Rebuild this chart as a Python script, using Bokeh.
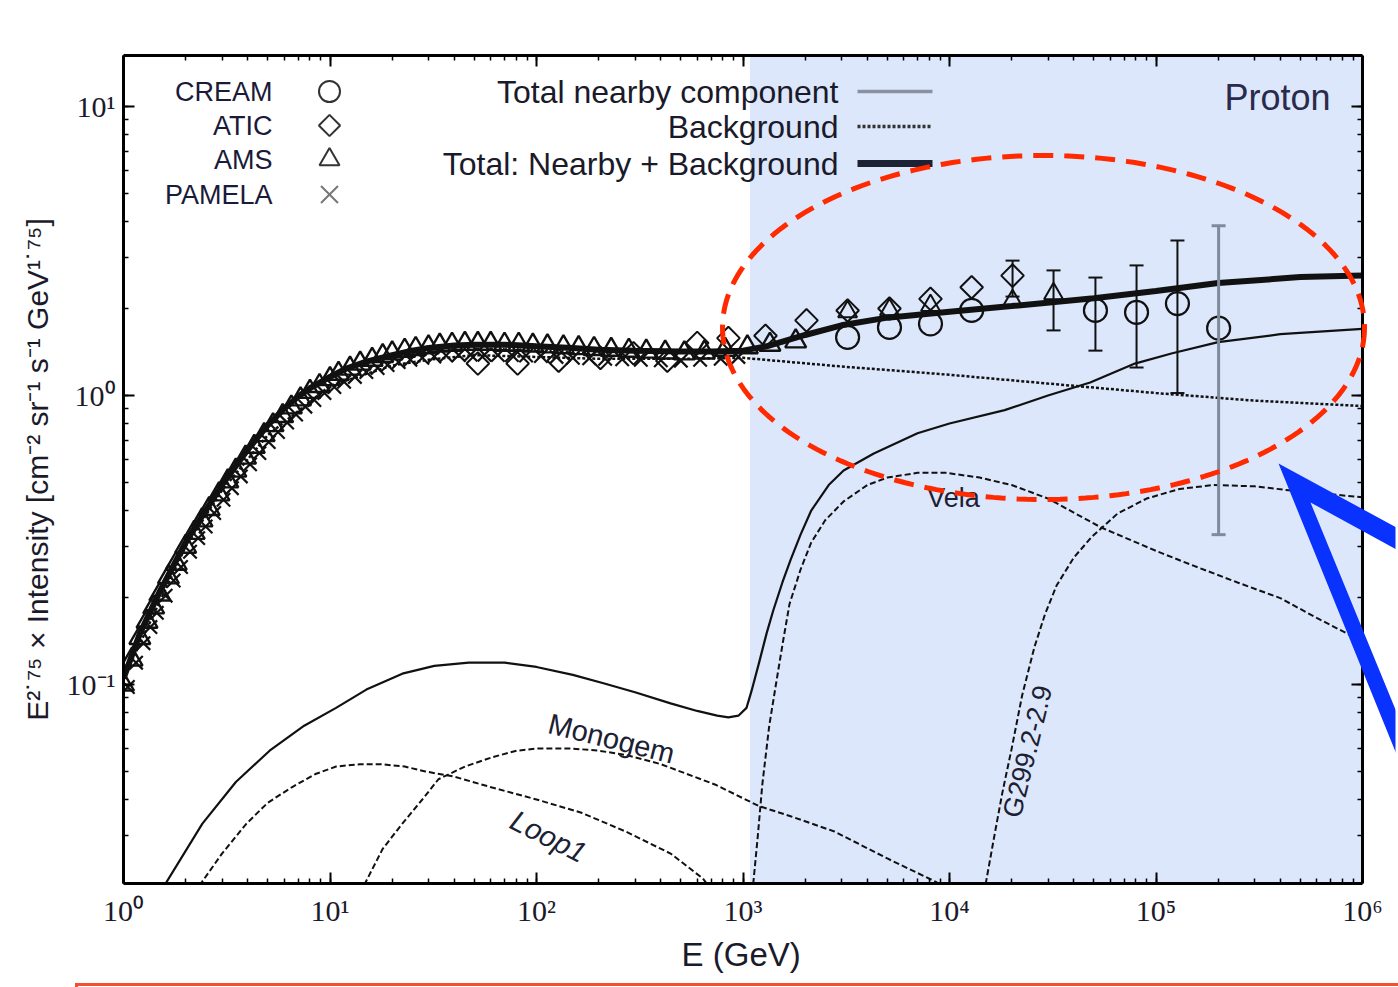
import numpy as np
from bokeh.plotting import figure
from bokeh.layouts import column
from bokeh.models import (Range1d, LogAxis, LogTicker, CustomJSTickFormatter, BoxAnnotation,
                          PolyAnnotation, Label, ColumnDataSource, Whisker, TeeHead, Div)
from bokeh.embed import file_html
from bokeh.resources import INLINE

# ---------------- data ----------------
ams_E = [1.0, 1.1, 1.2, 1.3, 1.4, 1.5, 1.65, 1.8, 2.0, 2.2, 2.4, 2.6, 2.9, 3.2, 3.5, 3.9, 4.3, 4.8,
         5.3, 5.9, 6.5, 7.2, 8.0, 8.9, 10, 11, 12.5, 14, 16, 18, 20, 23, 26, 30, 34, 39, 45, 52,
         60, 70, 82, 96, 113, 135, 160, 190, 230, 280, 340, 420, 520, 650, 820, 1050, 1350, 1800]
ams_v = [0.100, 0.122, 0.145, 0.165, 0.185, 0.205, 0.235, 0.262, 0.300, 0.335, 0.370, 0.405, 0.455,
         0.505, 0.55, 0.61, 0.665, 0.73, 0.79, 0.85, 0.91, 0.97, 1.03, 1.08, 1.14, 1.19, 1.24, 1.29,
         1.33, 1.37, 1.40, 1.43, 1.45, 1.47, 1.49, 1.50, 1.51, 1.51, 1.51, 1.50, 1.50, 1.49, 1.48,
         1.47, 1.46, 1.45, 1.44, 1.43, 1.42, 1.41, 1.40, 1.41, 1.44, 1.47, 1.50, 1.54]
ams_hi_E = [3210, 5120, 8090, 20200, 31900]
ams_hi_v = [1.95, 1.98, 2.05, 2.13, 2.25]
ams_err_E = [31900]
ams_err_lo = [1.68]
ams_err_hi = [2.71]

pam_E = [1.05, 1.15, 1.25, 1.35, 1.45, 1.6, 1.75, 1.9, 2.1, 2.3, 2.5, 2.75, 3.05, 3.35, 3.7, 4.1,
         4.55, 5.05, 5.6, 6.2, 6.85, 7.6, 8.4, 9.4, 10.5, 11.7, 13.2, 15, 17, 19, 21.5, 24.5, 28,
         32, 36.5, 42, 48, 56, 65, 76, 89, 105, 125, 150, 180, 215, 260, 320, 400, 500, 620, 780, 950]
pam_v = [0.098, 0.119, 0.139, 0.158, 0.177, 0.203, 0.229, 0.255, 0.288, 0.321, 0.352, 0.392, 0.436,
         0.478, 0.525, 0.578, 0.632, 0.690, 0.748, 0.806, 0.86, 0.915, 0.965, 1.02, 1.07, 1.115, 1.16,
         1.205, 1.245, 1.275, 1.305, 1.33, 1.35, 1.365, 1.375, 1.38, 1.385, 1.385, 1.38, 1.38, 1.375,
         1.37, 1.36, 1.35, 1.345, 1.34, 1.335, 1.33, 1.325, 1.32, 1.33, 1.34, 1.36]

atic_E = [52, 81, 128, 204, 295, 430, 600, 850, 1285, 2030, 3210, 5120, 8090, 12800, 20200]
atic_v = [1.29, 1.29, 1.32, 1.35, 1.40, 1.32, 1.52, 1.58, 1.61, 1.82, 1.97, 2.00, 2.16, 2.37, 2.60]
atic_err_E = [20200]
atic_err_lo = [2.20]
atic_err_hi = [2.93]

cream_E = [3210, 5120, 8090, 12800, 50900, 80500, 127000, 201000]
cream_v = [1.59, 1.72, 1.77, 1.97, 1.97, 1.94, 2.08, 1.71]
cream_err_E = [50900, 80500, 127000]
cream_err_lo = [1.43, 1.25, 1.02]
cream_err_hi = [2.56, 2.82, 3.44]
cream_err2_E = [201000]
cream_err2_lo = [0.33]
cream_err2_hi = [3.87]

total_E = [1, 1.2, 1.5, 2, 2.5, 3, 4, 5, 6, 7, 8, 10, 12, 15, 20, 25, 30, 40, 50, 70, 100, 150, 200,
           300, 500, 700, 1000, 1300, 2000, 3000, 5000, 1e4, 2e4, 5e4, 1e5, 2e5, 5e5, 1e6]
total_v = [0.105, 0.15, 0.21, 0.31, 0.40, 0.49, 0.65, 0.79, 0.90, 0.99, 1.06, 1.16, 1.24, 1.31, 1.38,
           1.43, 1.46, 1.49, 1.50, 1.50, 1.48, 1.46, 1.44, 1.43, 1.42, 1.42, 1.43, 1.48, 1.62, 1.75,
           1.86, 1.95, 2.04, 2.17, 2.30, 2.45, 2.57, 2.60]

near_E = [1.5, 2.41, 3.5, 5.1, 7.5, 10.7, 15, 22.4, 32, 47, 70, 100, 150, 211, 300, 446, 600, 750,
          850, 950, 1040, 1100, 1200, 1300, 1400, 1550, 1700, 1900, 2140, 2600, 3070, 4300, 7000,
          1e4, 1.85e4, 3e4, 4.8e4, 7.9e4, 1.2e5, 2e5, 4e5, 1e6]
near_v = [0.019, 0.033, 0.046, 0.059, 0.072, 0.083, 0.096, 0.109, 0.116, 0.119, 0.119, 0.115, 0.108,
          0.101, 0.094, 0.086, 0.081, 0.078, 0.077, 0.078, 0.083, 0.095, 0.12, 0.15, 0.18, 0.225,
          0.27, 0.33, 0.40, 0.49, 0.55, 0.63, 0.74, 0.80, 0.89, 1.00, 1.11, 1.29, 1.40, 1.53, 1.63, 1.70]

bg_E = [1, 2, 3, 5, 10, 20, 30, 50, 100, 200, 500, 1000, 3000, 1e4, 3e4, 1e5, 3e5, 1e6]
bg_v = [0.105, 0.30, 0.47, 0.73, 1.08, 1.27, 1.33, 1.38, 1.36, 1.34, 1.34, 1.35, 1.26, 1.18, 1.10,
        1.02, 0.96, 0.92]

loop1_E = [2.2, 3.0, 3.94, 5.0, 6.5, 8.5, 10.7, 14, 17.6, 23, 29, 40, 61, 100, 165, 270, 446, 640, 720]
loop1_v = [0.019, 0.026, 0.033, 0.039, 0.044, 0.049, 0.052, 0.053, 0.053, 0.052, 0.050, 0.048, 0.044,
           0.040, 0.036, 0.031, 0.026, 0.0213, 0.019]

monogem_E = [14.0, 18, 22.4, 28, 33.5, 45, 61, 80, 100, 150, 200, 273, 400, 736, 1190, 1700, 2770,
             5000, 8650, 9800]
monogem_v = [0.019, 0.027, 0.033, 0.040, 0.047, 0.052, 0.056, 0.059, 0.060, 0.060, 0.059, 0.057,
             0.053, 0.045, 0.038, 0.035, 0.031, 0.025, 0.0207, 0.019]

vela_E = [1110, 1180, 1240, 1340, 1450, 1560, 1680, 1900, 2140, 2500, 3070, 4000, 5000, 7000, 9600,
          14000, 20000, 30000, 54000, 1e5, 1.47e5, 2.5e5, 4e5, 6e5, 8.9e5, 1e6]
vela_v = [0.019, 0.030, 0.045, 0.072, 0.102, 0.14, 0.19, 0.25, 0.31, 0.37, 0.43, 0.49, 0.52, 0.54,
          0.54, 0.52, 0.49, 0.44, 0.35, 0.29, 0.26, 0.225, 0.199, 0.17, 0.147, 0.142]

g299_E = [14700, 16500, 18000, 20000, 22500, 25800, 29000, 33000, 40000, 49000, 65000, 90000,
          1.3e5, 1.9e5, 3e5, 4.4e5, 7e5, 1e6]
g299_v = [0.019, 0.030, 0.042, 0.060, 0.092, 0.135, 0.175, 0.22, 0.275, 0.325, 0.39, 0.44, 0.475,
          0.49, 0.485, 0.47, 0.455, 0.445]

# ---------------- layout ----------------
W, H = 1398, 987
MAIN_H = 980                      # chart canvas; a 7 px strip below carries the red frame edge
RB = 3                            # right border; the frame runs on past the right axis
FL, FR, FT, FB = 123, 1362, 55, 883   # visible chart box (10^0..10^6 horizontally)
XMIN, XMAX = 1.0, 1.0e6
YMIN, YMAX = 0.02048, 15.02
LX0, LX1 = np.log10(XMIN), np.log10(XMAX)
LY0, LY1 = np.log10(YMIN), np.log10(YMAX)
DEC = (FR - FL) / (LX1 - LX0)
X_END = 10 ** (LX1 + ((W - RB) - FR) / DEC)   # range end at the true frame edge


def px_to_x(px):
    return 10 ** (LX0 + (np.asarray(px, dtype=float) - FL) / DEC)


def py_to_y(py):
    return 10 ** (LY1 - (np.asarray(py, dtype=float) - FT) / (FB - FT) * (LY1 - LY0))


INK = "#111111"
SANS = "Liberation Sans"
SERIF = "Liberation Serif"

p = figure(width=W, height=MAIN_H, x_axis_type="log", y_axis_type="log",
           x_range=Range1d(XMIN, X_END), y_range=Range1d(YMIN, YMAX),
           output_backend="svg", toolbar_location=None, margin=0,
           min_border_left=FL, min_border_right=RB, min_border_top=FT,
           min_border_bottom=MAIN_H - FB)
p.xgrid.visible = False
p.ygrid.visible = False
p.outline_line_color = None
p.background_fill_color = "white"
p.border_fill_color = "white"

fmt = CustomJSTickFormatter(code="""
const e = Math.round(Math.log10(tick));
const m = {"-":"\u207b","0":"\u2070","1":"\u00b9","2":"\u00b2","3":"\u00b3","4":"\u2074",
           "5":"\u2075","6":"\u2076","7":"\u2077","8":"\u2078","9":"\u2079"};
return "10" + String(e).split("").map(c => m[c]).join("");
""")


def style_axis(ax, labels=True):
    ax.ticker = LogTicker(num_minor_ticks=10)
    ax.major_tick_in = 11
    ax.major_tick_out = 0
    ax.minor_tick_in = 5
    ax.minor_tick_out = 0
    ax.axis_line_width = 3
    ax.axis_line_color = "black"
    ax.major_tick_line_width = 2
    ax.minor_tick_line_width = 1.5
    ax.major_tick_line_color = "black"
    ax.minor_tick_line_color = "black"
    if labels:
        ax.formatter = fmt
        ax.major_label_text_font = SERIF
        ax.major_label_text_font_size = "30px"
        ax.major_label_text_color = "#1a1a2a"
    else:
        ax.major_label_text_font_size = "0px"
        ax.major_label_text_alpha = 0
        ax.major_label_standoff = 0


style_axis(p.xaxis[0])
style_axis(p.yaxis[0])
p.xaxis[0].bounds = (XMIN, XMAX)
p.xaxis[0].major_label_standoff = 10
p.yaxis[0].major_label_standoff = 8
# trailing no-break spaces pull the centred title back under the visible box
p.xaxis[0].axis_label = "E (GeV)\u00a0\u00a0\u00a0\u00a0"
p.yaxis[0].axis_label = "E\u00b2\u02d9\u2077\u2075 \u00d7 Intensity [cm\u207b\u00b2 sr\u207b\u00b9 s\u207b\u00b9 GeV\u00b9\u02d9\u2077\u2075]"
for ax, size in ((p.xaxis[0], "33px"), (p.yaxis[0], "30px")):
    ax.axis_label_text_font = SANS
    ax.axis_label_text_font_size = size
    ax.axis_label_text_font_style = "normal"
    ax.axis_label_text_color = "#1a1a2a"
p.xaxis[0].axis_label_standoff = 6
p.yaxis[0].axis_label_standoff = 10

top_ax = LogAxis(bounds=(XMIN, XMAX))
right_ax = LogAxis(fixed_location=XMAX)
style_axis(top_ax, labels=False)
style_axis(right_ax, labels=False)
p.add_layout(top_ax, "above")
p.add_layout(right_ax, "right")

# shaded high-energy region
p.add_layout(BoxAnnotation(left=1080, right=XMAX, fill_color="#dce7fb", fill_alpha=1.0,
                           line_alpha=0, level="underlay"))

# ---------------- model curves ----------------
p.line(bg_E, bg_v, line_color=INK, line_width=2.5, line_dash="3 2")
p.line(total_E, total_v, line_color=INK, line_width=6)
p.line(near_E, near_v, line_color=INK, line_width=2.2)
for E, v in ((loop1_E, loop1_v), (monogem_E, monogem_v), (vela_E, vela_v), (g299_E, g299_v)):
    p.line(E, v, line_color=INK, line_width=2, line_dash="6 3")

# ---------------- data ----------------
p.scatter(pam_E, pam_v, marker="x", size=19, line_color=INK, line_width=2.2)
p.scatter(ams_E, ams_v, marker="triangle", size=21, line_color=INK, line_width=2.4, fill_alpha=0)
p.scatter(ams_hi_E, ams_hi_v, marker="triangle", size=19, line_color=INK, line_width=2, fill_alpha=0)
p.scatter(atic_E, atic_v, marker="square", angle=np.pi / 4, size=16, line_color=INK,
          line_width=2, fill_alpha=0)
p.scatter(cream_E, cream_v, marker="circle", size=23, line_color=INK, line_width=2.2, fill_alpha=0)


def add_err(E, lo, hi, color, width):
    src = ColumnDataSource(dict(x=E, lo=lo, hi=hi))
    p.add_layout(Whisker(source=src, base="x", lower="lo", upper="hi", level="glyph",
                         line_color=color, line_width=width,
                         lower_head=TeeHead(size=14, line_color=color, line_width=width),
                         upper_head=TeeHead(size=14, line_color=color, line_width=width)))


add_err(atic_err_E, atic_err_lo, atic_err_hi, INK, 2)
add_err(ams_err_E, ams_err_lo, ams_err_hi, INK, 2)
add_err(cream_err_E, cream_err_lo, cream_err_hi, INK, 2)
add_err(cream_err2_E, cream_err2_lo, cream_err2_hi, "#7f8a9c", 3)

# ---------------- legend (drawn by hand: label left, sample right) ----------------
for txt, py in (("CREAM", 91), ("ATIC", 125), ("AMS", 159), ("PAMELA", 194)):
    p.add_layout(Label(x=px_to_x(272), y=py_to_y(py), text=txt, text_align="right",
                       text_baseline="middle", text_font=SANS, text_font_size="27px",
                       text_color="#1a1a3a"))
mx = px_to_x(329)
p.scatter([mx], [py_to_y(91)], marker="circle", size=21, line_color="#333", line_width=2, fill_alpha=0)
p.scatter([mx], [py_to_y(125)], marker="square", angle=np.pi / 4, size=15, line_color="#333",
          line_width=2, fill_alpha=0)
p.scatter([mx], [py_to_y(159)], marker="triangle", size=20, line_color="#333", line_width=2, fill_alpha=0)
p.scatter([mx], [py_to_y(194)], marker="x", size=24, line_color="#777", line_width=2)

for txt, py in (("Total nearby component", 91), ("Background", 126), ("Total: Nearby + Background", 163)):
    p.add_layout(Label(x=px_to_x(838), y=py_to_y(py), text=txt, text_align="right",
                       text_baseline="middle", text_font=SANS, text_font_size="32px",
                       text_color="#1a1a2a"))
lx = px_to_x([857, 932])
p.line(lx, [py_to_y(91)] * 2, line_color="#8a929f", line_width=3.5)
p.line(lx, [py_to_y(126)] * 2, line_color="#333", line_width=3.5, line_dash="3 2")
p.line(lx, [py_to_y(163)] * 2, line_color="#1c2233", line_width=7)

p.add_layout(Label(x=px_to_x(1330), y=py_to_y(97), text="Proton", text_align="right",
                   text_baseline="middle", text_font=SANS, text_font_size="36px",
                   text_color="#2a2a4a"))

# source labels
LAB = "#1c2033"
p.add_layout(Label(x=px_to_x(611), y=py_to_y(738), text="Monogem", text_align="center",
                   text_baseline="middle", angle=-0.243, text_font=SANS, text_font_size="29px",
                   text_color=LAB))
p.add_layout(Label(x=px_to_x(548), y=py_to_y(836), text="Loop1", text_align="center",
                   text_baseline="middle", angle=-0.47, text_font=SANS, text_font_size="29px",
                   text_font_style="italic", text_color=LAB))
p.add_layout(Label(x=px_to_x(953), y=py_to_y(497), text="Vela", text_align="center",
                   text_baseline="middle", text_font=SANS, text_font_size="27px", text_color=LAB))
p.add_layout(Label(x=px_to_x(1027), y=py_to_y(751), text="G299.2-2.9", text_align="center",
                   text_baseline="middle", angle=1.33, text_font=SANS, text_font_size="27px",
                   text_color=LAB))

# ---------------- overlay highlights ----------------
t = np.linspace(0, 2 * np.pi, 241)
ex = px_to_x(1043 + 321 * np.cos(t))
ey = py_to_y(327 + 172 * np.sin(t))
p.add_layout(PolyAnnotation(xs=list(ex), ys=list(ey), fill_alpha=0, line_color="#ff2a00",
                            line_alpha=1, line_width=5, line_dash="20 11"))

BLUE = "#0a32ff"
arrow_px = [1278, 1420, 1420, 1310, 1420, 1420]
arrow_py = [463, 540, 562, 502, 770, 813]
p.add_layout(PolyAnnotation(xs=list(px_to_x(arrow_px)), ys=list(py_to_y(arrow_py)),
                            fill_color=BLUE, fill_alpha=1, line_alpha=0))

# strip below the chart: top-left corner of the red frame
strip = Div(text="", width=W - 75, height=4, margin=(3, 0, 0, 75),
            styles={"border-top": "3px solid #f4502f", "border-left": "3px solid #f4502f",
                    "box-sizing": "border-box"})

layout = column(p, strip, spacing=0)
open("out.html", "w").write(file_html(layout, INLINE))
